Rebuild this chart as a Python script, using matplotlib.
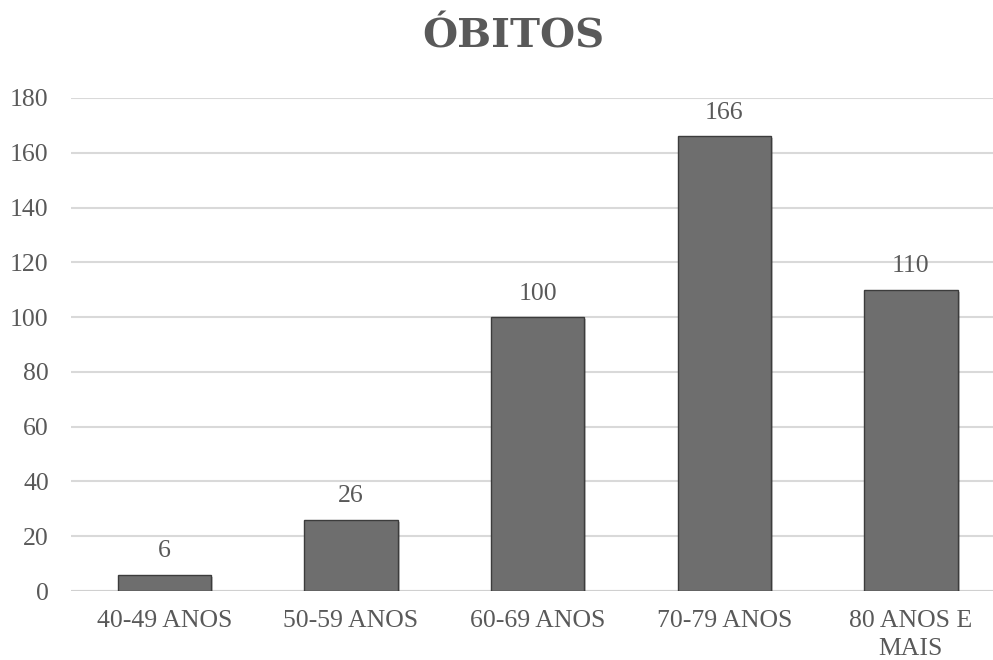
import numpy as np
import matplotlib.pyplot as plt
import matplotlib.patheffects as pe

# dados
faixas = ["40-49 ANOS", "50-59 ANOS", "60-69 ANOS", "70-79 ANOS", "80 ANOS E\nMAIS"]
obitos = [6, 26, 100, 166, 110]
yticks = [0, 20, 40, 60, 80, 100, 120, 140, 160, 180]

cinza = "#595959"
plt.rcParams['font.family'] = ['Liberation Serif', 'DejaVu Serif']

fig = plt.figure(figsize=(9.93, 6.6), dpi=100)
ax = fig.add_axes([71/993, 69/660, 922/993, 493/660])

x = np.arange(len(faixas))
barras = ax.bar(x, obitos, width=0.5, color="#6e6e6e", edgecolor="#3c3c3c",
                linewidth=1.0, zorder=3)
for b in barras:
    b.set_path_effects([pe.SimplePatchShadow(offset=(1.5, -1.5), alpha=0.25),
                        pe.Normal()])

for xi, v in zip(x, obitos):
    ax.annotate(str(v), xy=(xi, v), xytext=(0, 9), textcoords="offset points",
                ha="center", va="bottom", fontsize=18.5, color=cinza)

ax.set_xlim(-0.5, 4.44)
ax.set_ylim(0, 180)
ax.set_yticks(yticks)
ax.set_xticks(x)
ax.set_xticklabels(faixas, fontsize=18.5, color=cinza, linespacing=1.35)
ax.tick_params(axis="y", labelsize=18.5, labelcolor=cinza, length=0, pad=16)
ax.tick_params(axis="x", length=0, pad=14)
ax.grid(axis="y", color="#d9d9d9", linewidth=1.5, zorder=0)
for s in ["top", "right", "left", "bottom"]:
    ax.spines[s].set_visible(False)
ax.axhline(0, color="#d0d0d0", linewidth=1.5, zorder=2)

fig.text(513/993, 1 - 37/660, "ÓBITOS", ha="center", va="center",
         fontsize=29, fontweight="bold", color=cinza, family=['DejaVu Serif'])

fig.savefig("out.png", dpi=100)
